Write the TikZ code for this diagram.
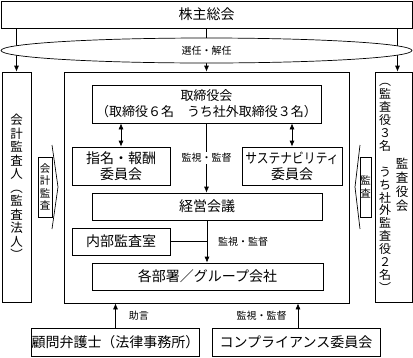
\documentclass[tikz,border=0pt]{standalone}
\usepackage{fontspec}
\setmainfont{Noto Sans CJK JP}
\usepackage{graphicx}
\usetikzlibrary{shapes.geometric, arrows.meta, positioning}
\tikzset{
  box/.style={rectangle, draw, inner sep=0pt, align=center,
    font=\fontsize{14}{16}\selectfont, line width=0.7pt},
  vbox/.style={rectangle, draw, inner sep=0pt, line width=0.7pt},
  vtext/.style={align=center, inner sep=0pt, font=\fontsize{12.5}{13.5}\selectfont},
  lbl/.style={font=\fontsize{10}{12}\selectfont, inner sep=1pt},
  arrow/.style={-{Latex[length=6pt,width=5pt]}, line width=0.7pt},
  dblarrow/.style={{Latex[length=6pt,width=5pt]}-{Latex[length=6pt,width=5pt]}, line width=0.7pt},
  line/.style={line width=0.7pt}
}

\begin{document}
\begin{tikzpicture}[x=1pt, y=-1pt]
  \useasboundingbox (0,0) rectangle (413,357);
  % Shareholders and the three bodies below
  \node[box, minimum width=411pt, minimum height=27pt] (soukai) at (206.5,14.5) {株主総会};
  \node[vbox, minimum width=29pt, minimum height=230pt] (kaikei) at (16.5,187) {};
  \node[vbox, minimum width=285pt, minimum height=231pt] (main) at (206.5,187.5) {};
  \node[vbox, minimum width=37pt, minimum height=230pt] (kansa) at (393.5,187) {};
  \coordinate (kansatop) at ([xshift=4pt]kansa.north);
  \draw[arrow] (soukai.south -| kaikei.north) -- (kaikei.north);
  \draw[arrow] (soukai.south -| main.north) -- (main.north);
  \draw[arrow] (soukai.south -| kansatop) -- (kansatop);
  \node[ellipse, draw, fill=white, line width=0.7pt, inner sep=0pt,
    minimum width=411pt, minimum height=25pt, font=\fontsize{10}{12}\selectfont] (sennin) at (206.5,50.5) {選任・解任};

  % Vertical texts
  \node[vtext] (kaikeitext) at (kaikei.center) {会\\計\\監\\査\\人\\︵\\監\\査\\法\\人\\︶};
  \node[vtext, font=\fontsize{12}{12.9}\selectfont] (kansamember) at (385,188)
    {︵\\監\\査\\役\\３\\名\\　\\う\\ち\\社\\外\\監\\査\\役\\２\\名\\︶};
  \node[vtext, font=\fontsize{12.5}{14}\selectfont] (kansatitle) at (402,185) {監\\査\\役\\会};

  % Audit block arrows
  \draw[line, fill=white] (38,157) rectangle (52,217);
  \draw[line] (52,145) -- (58,187) -- (52,229);
  \node[vtext, font=\fontsize{10.5}{12.3}\selectfont] (kaikeiarrow) at (45,187) {会\\計\\監\\査};
  \draw[line, fill=white] (360,157) rectangle (371,217);
  \draw[line] (360,145) -- (355,187) -- (360,229);
  \node[vtext, font=\fontsize{10.5}{12.3}\selectfont] (kansaarrow) at (365.5,187) {監\\査};

  % Inside the company
  \node[box, font=\fontsize{13}{16}\selectfont, minimum width=229pt, minimum height=38pt] (torishimari) at (206.5,104)
    {取締役会\\（取締役６名　うち社外取締役３名）};
  \node[box, minimum width=98pt, minimum height=38pt] (shimei) at (121,166) {指名・報酬\\委員会};
  \node[box, minimum width=100pt, minimum height=38pt] (sustain) at (292,166)
    {\scalebox{0.84}[1]{サステナビリティ}\\委員会};
  \node[box, minimum width=230pt, minimum height=27pt] (keiei) at (207,206.5) {経営会議};
  \node[box, minimum width=98pt, minimum height=27pt] (naibu) at (121,241.5) {内部監査室};
  \node[box, minimum width=231pt, minimum height=27pt] (kakubu) at (207.5,276.5) {各部署／グループ会社};

  \draw[dblarrow] (torishimari.south -| shimei.north) -- (shimei.north);
  \draw[dblarrow] (torishimari.south -| sustain.north) -- (sustain.north);
  \draw[arrow] (torishimari.south) -- (torishimari.south |- keiei.north)
    node[midway, lbl, fill=white] (kanshi1) {監視・監督};
  \draw[arrow] (keiei.south) -- (keiei.south |- kakubu.north);
  \draw[line] (naibu.east) -- (naibu.east -| keiei.south);
  \node[lbl, anchor=west] (kanshi2) at ([xshift=10pt]naibu.east -| keiei.south) {監視・監督};

  % Outside advisers
  \node[box, minimum width=167pt, minimum height=28pt] (komon) at (115.5,342) {顧問弁護士（法律事務所）};
  \node[box, minimum width=168pt, minimum height=28pt] (comp) at (296,342) {コンプライアンス委員会};
  \coordinate (comptop) at ([xshift=2pt]comp.north);
  \draw[arrow] (komon.north) -- (komon.north |- main.south)
    node[midway, lbl, right=12pt] (jogen) {助言};
  \draw[arrow] (comptop) -- (comptop |- main.south)
    node[midway, lbl, left=10pt] (kanshi3) {監視・監督};
\end{tikzpicture}
\end{document}
